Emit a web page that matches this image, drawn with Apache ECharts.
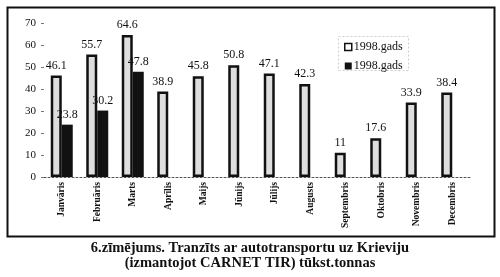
<!DOCTYPE html>
<html>
<head>
<meta charset="utf-8">
<script src="https://cdn.jsdelivr.net/npm/echarts@6/dist/echarts.min.js"></script>
<style>html,body{margin:0;padding:0;background:#fff}#c{width:500px;height:277px}</style>
</head>
<body>
<div id="c"></div>
<script>
const months = ['Janvāris','Februāris','Marts','Aprīlis','Maijs','Jūnijs','Jūlijs','Augusts','Septembris','Oktobris','Novembris','Decembris'];
const seriesA = [46.1, 55.7, 64.6, 38.9, 45.8, 50.8, 47.1, 42.3, 11, 17.6, 33.9, 38.4];
const seriesB = [23.8, 30.2, 47.8, null, null, null, null, null, null, null, null, null];
const seriesNames = ['1998.gads', '1998.gads '];
const yTicks = [0, 10, 20, 30, 40, 50, 60, 70];
const captionLines = ['6.zīmējums. Tranzīts ar autotransportu uz Krieviju', '(izmantojot CARNET TIR) tūkst.tonnas'];

const serif = 'Liberation Serif';
const chart = echarts.init(document.getElementById('c'));
chart.setOption({
  animation: false,
  title: {
    text: captionLines.join('\n'),
    left: 'center',
    top: 236,
    textStyle: { fontFamily: serif, fontWeight: 'bold', fontSize: 14.5, lineHeight: 15, color: '#111' }
  },
  graphic: [{
    type: 'rect', left: 5, top: 5, shape: { width: 487, height: 229 },
    style: { fill: 'none', stroke: '#111', lineWidth: 2 }
  }, {
    type: 'rect', left: 336, top: 34, shape: { width: 70, height: 34 },
    style: { fill: 'none', stroke: '#ccc', lineWidth: 1, lineDash: [2, 2] }
  }],
  legend: {
    orient: 'vertical',
    left: 339, top: 36,
    itemWidth: 7, itemHeight: 7, itemGap: 7,
    textStyle: { fontFamily: serif, fontSize: 12, color: '#111', padding: [0, 0, 0, -3] },
    data: [
      { name: seriesNames[0], icon: 'rect', itemStyle: { color: '#fff', borderColor: '#111', borderWidth: 1.5 } },
      { name: seriesNames[1], icon: 'rect', itemStyle: { color: '#111' } }
    ],
    formatter: n => n.trim()
  },
  grid: { left: 44, right: 30, top: 23, bottom: 100 },
  xAxis: {
    type: 'category', data: months,
    axisLine: { lineStyle: { color: '#555', type: [2, 2], width: 1 } },
    axisTick: { show: false },
    axisLabel: { rotate: 90, fontFamily: serif, fontWeight: 'bold', fontSize: 9.5, color: '#111', margin: 5 }
  },
  yAxis: {
    type: 'value', min: 0, max: 70, interval: 10,
    axisLine: { show: false },
    axisTick: { show: true, length: 3, lineStyle: { color: '#777' } },
    splitLine: { show: false },
    axisLabel: { fontFamily: serif, fontSize: 11, color: '#111', margin: 8,
      formatter: v => yTicks.includes(v) ? String(v) : '' }
  },
  series: [{
    name: seriesNames[0], type: 'bar', data: seriesA, barWidth: 11, barGap: '0%',
    itemStyle: { color: '#dedede', borderColor: '#111', borderWidth: 2.5 },
    label: { show: true, position: 'top', distance: 4, fontFamily: serif, fontSize: 12, color: '#111' }
  }, {
    name: seriesNames[1], type: 'bar', data: seriesB, barWidth: 11,
    itemStyle: { color: '#111' },
    label: { show: true, position: 'top', distance: 4, fontFamily: serif, fontSize: 12, color: '#111' }
  }]
});
</script>
</body>
</html>
